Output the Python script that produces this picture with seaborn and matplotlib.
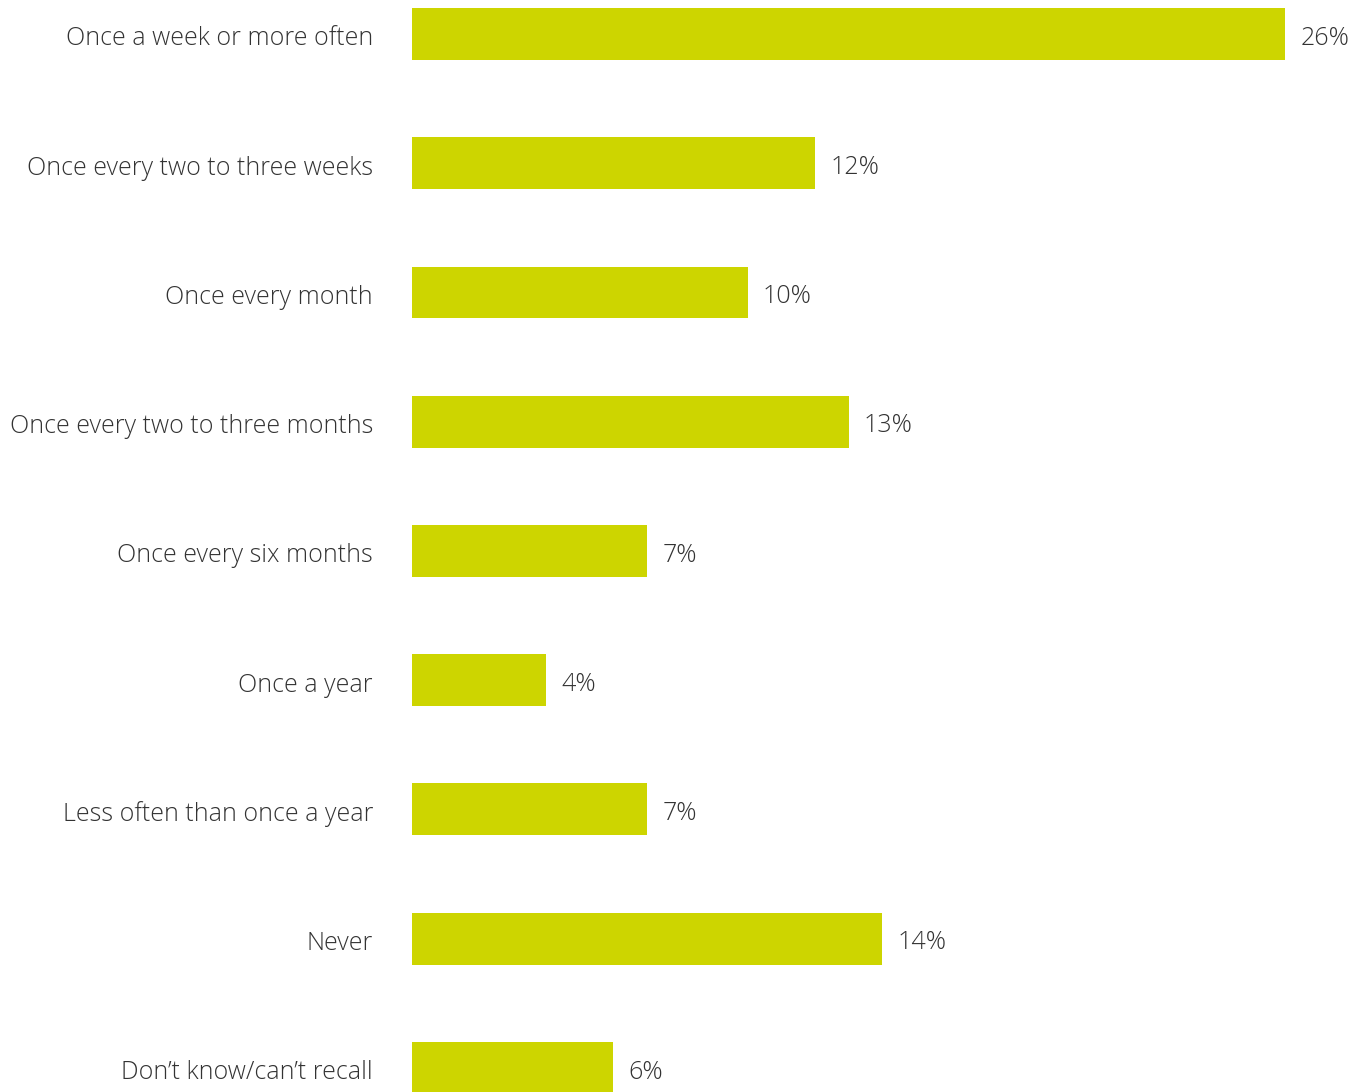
import matplotlib
matplotlib.use("Agg")
import matplotlib.pyplot as plt
import matplotlib.transforms as mtransforms
import seaborn as sns
import pandas as pd

categories = [
    "Once a week or more often",
    "Once every two to three weeks",
    "Once every month",
    "Once every two to three months",
    "Once every six months",
    "Once a year",
    "Less often than once a year",
    "Never",
    "Don\u2019t know/can\u2019t recall",
]
values = [26, 12, 10, 13, 7, 4, 7, 14, 6]
value_labels = ["26%", "12%", "10%", "13%", "7%", "4%", "7%", "14%", "6%"]

df = pd.DataFrame({"category": categories, "value": values})

sns.set_theme(style="white")
plt.rcParams["font.family"] = ["Open Sans", "DejaVu Sans"]

BAR_COLOR = "#CDD500"
TEXT_COLOR = "#333333"

fig = plt.figure(figsize=(13.65, 10.92), dpi=100)
ax = fig.add_axes([412 / 1365, 0, 953 / 1365, 1])

sns.barplot(data=df, x="value", y="category", orient="h", color=BAR_COLOR,
            width=0.402, saturation=1, linewidth=0, ax=ax)

ax.set_xlim(0, 953 / 33.58)
ax.set_ylim(8.186, -0.263)
ax.set_xlabel("")
ax.set_ylabel("")
ax.set_xticks([])
for s in ax.spines.values():
    s.set_visible(False)

ax.tick_params(axis="y", length=0, pad=28)
# category labels sit slightly below the bar centre
offset = mtransforms.ScaledTranslation(0, -2 / 100, fig.dpi_scale_trans)
for lab in ax.get_yticklabels():
    lab.set_fontsize(18)
    lab.set_fontweight("light")
    lab.set_color(TEXT_COLOR)
    lab.set_transform(lab.get_transform() + offset)

for i, (v, t) in enumerate(zip(values, value_labels)):
    ax.annotate(t, xy=(v, i), xytext=(11, -3), textcoords="offset points",
                va="center", ha="left", fontsize=18, fontweight="light",
                color=TEXT_COLOR)

fig.savefig("out.png", dpi=100)
